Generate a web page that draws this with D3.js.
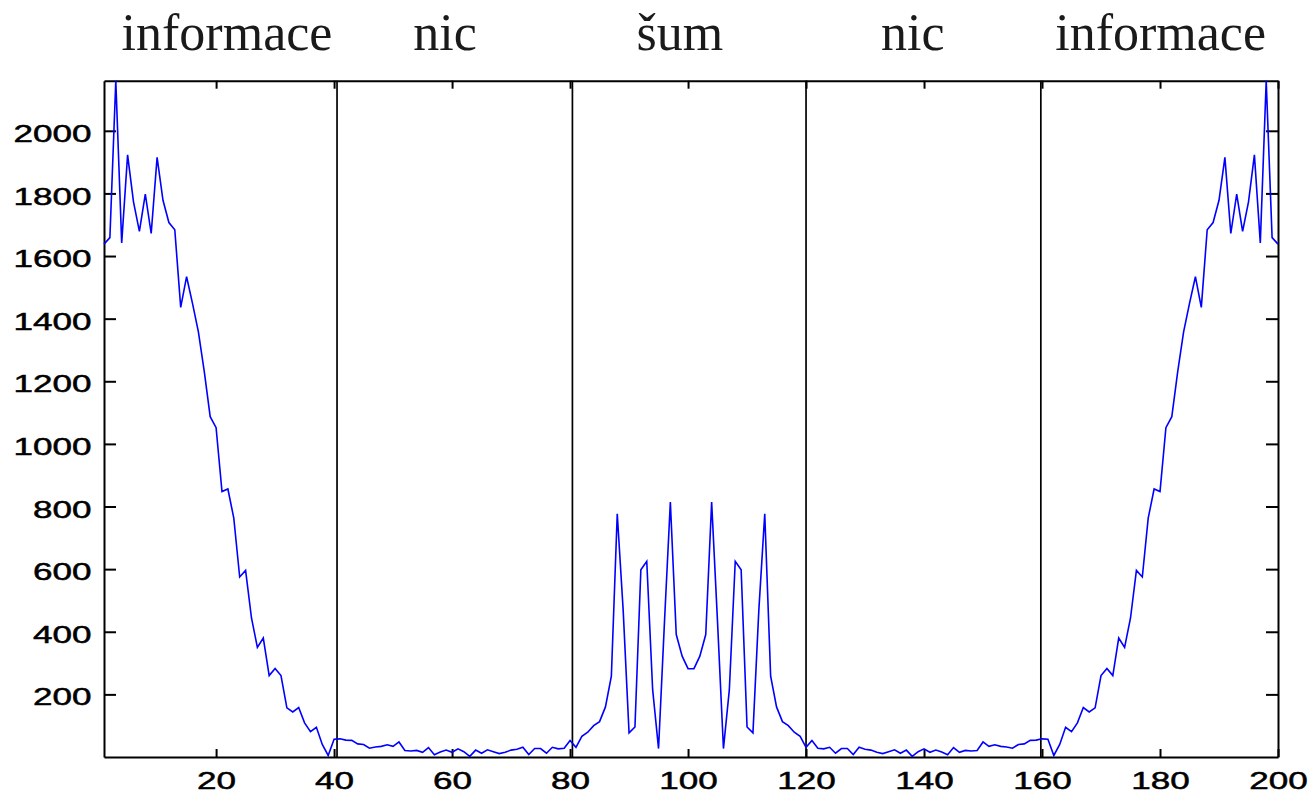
<!DOCTYPE html>
<html><head><meta charset="utf-8">
<script src="https://cdn.jsdelivr.net/npm/d3@7"></script>
<style>body{margin:0;background:#fff}</style>
</head><body>
<svg id="chart" width="1312" height="795"></svg>
<script>
// Spectrum magnitude, samples 1..200
const values = [
 1638,1659,2160,1642,1923,1773,1679,1798,1672,1915,
 1778,1707,1684,1436,1534,1449,1358,1231,1087,1052,
 848,856,763,575,596,444,350,380,260,283,
 260,157,144,158,109,81,95,40,5,57,
 58,54,53,42,40,28,32,34,39,34,
 48,21,19,21,15,30,7,16,22,15,
 26,17,2,22,12,23,17,11,15,22,
 25,31,8,27,27,12,31,26,28,53,
 31,66,79,100,113,160,258,777,470,77,
 96,598,625,215,27,430,814,391,322,282,
 282,322,391,814,430,27,215,625,598,96,
 77,470,777,258,160,113,100,79,66,31,
 53,28,26,31,12,27,27,8,31,25,
 22,15,11,17,23,12,22,2,17,26,
 15,22,16,7,30,15,21,19,21,48,
 34,39,34,32,28,40,42,53,54,58,
 57,5,40,95,81,109,158,144,157,260,
 283,260,380,350,444,596,575,763,856,848,
 1052,1087,1231,1358,1449,1534,1436,1684,1707,1778,
 1915,1672,1798,1679,1773,1923,1642,2160,1659,1638
];
const separators = [40.5, 80.4, 120, 159.8];
const regionLabels = ["informace", "nic", "šum", "nic", "informace"];
const regionLabelX = [21.85, 58.8, 98.6, 138.1, 180.1];
const xTicks = [20, 40, 60, 80, 100, 120, 140, 160, 180, 200];
const yTicks = [200, 400, 600, 800, 1000, 1200, 1400, 1600, 1800, 2000];

const svg = d3.select("#chart");
const L = 104, R = 1278, T = 80.7, B = 757;
const x = d3.scaleLinear().domain([1, values.length]).range([L, R]);
const y = d3.scaleLinear().domain([0, d3.max(values)]).range([B, T]);
const digitW = 19.5;
const fmt = d3.format("d");

// axes
const gL = svg.append("g").attr("transform", `translate(${L},0)`)
  .call(d3.axisLeft(y).tickValues(yTicks).tickFormat(fmt).tickSizeInner(-12).tickSizeOuter(0).tickPadding(12.5));
const gR = svg.append("g").attr("transform", `translate(${R},0)`)
  .call(d3.axisRight(y).tickValues(yTicks).tickSizeInner(-12).tickSizeOuter(0).tickFormat(""));
const gB = svg.append("g").attr("transform", `translate(0,${B})`)
  .call(d3.axisBottom(x).tickValues(xTicks).tickFormat(fmt).tickSizeInner(-8).tickSizeOuter(0).tickPadding(0));
const gT = svg.append("g").attr("transform", `translate(0,${T})`)
  .call(d3.axisTop(x).tickValues(xTicks).tickSizeInner(-8).tickSizeOuter(0).tickFormat(""));

[gL, gR, gB, gT].forEach(g => {
  g.selectAll("path.domain").attr("stroke", "#000").attr("stroke-width", 2);
  g.selectAll(".tick line").attr("stroke", "#000").attr("stroke-width", 2);
});
[gL, gB].forEach((g, k) => {
  g.selectAll(".tick text")
    .attr("font-family", "'Liberation Sans', Arial, sans-serif")
    .attr("font-size", 24.5).attr("fill", "#000")
    .attr("stroke", "#000").attr("stroke-width", 0.5)
    .attr("dy", null).attr("y", k === 0 ? 10.6 : 32)
    .attr("textLength", d => fmt(d).length * digitW)
    .attr("lengthAdjust", "spacingAndGlyphs");
});

// separators
svg.append("g").selectAll("line").data(separators).join("line")
  .attr("x1", d => x(d)).attr("x2", d => x(d))
  .attr("y1", T).attr("y2", B)
  .attr("stroke", "#000").attr("stroke-width", 1.7);

// data line
svg.append("path")
  .datum(values)
  .attr("fill", "none")
  .attr("stroke", "#0000ff")
  .attr("stroke-width", 1.6)
  .attr("stroke-linejoin", "miter")
  .attr("d", d3.line().x((d, i) => x(i + 1)).y(d => y(d)));

// region titles
svg.append("g").selectAll("text").data(regionLabels).join("text")
  .attr("x", (d, i) => x(regionLabelX[i]))
  .attr("y", 50)
  .attr("text-anchor", "middle")
  .attr("font-family", "'Liberation Serif', 'Times New Roman', serif")
  .attr("font-size", 52)
  .attr("fill", "#1a1a1a")
  .text(d => d);
</script>
</body></html>
